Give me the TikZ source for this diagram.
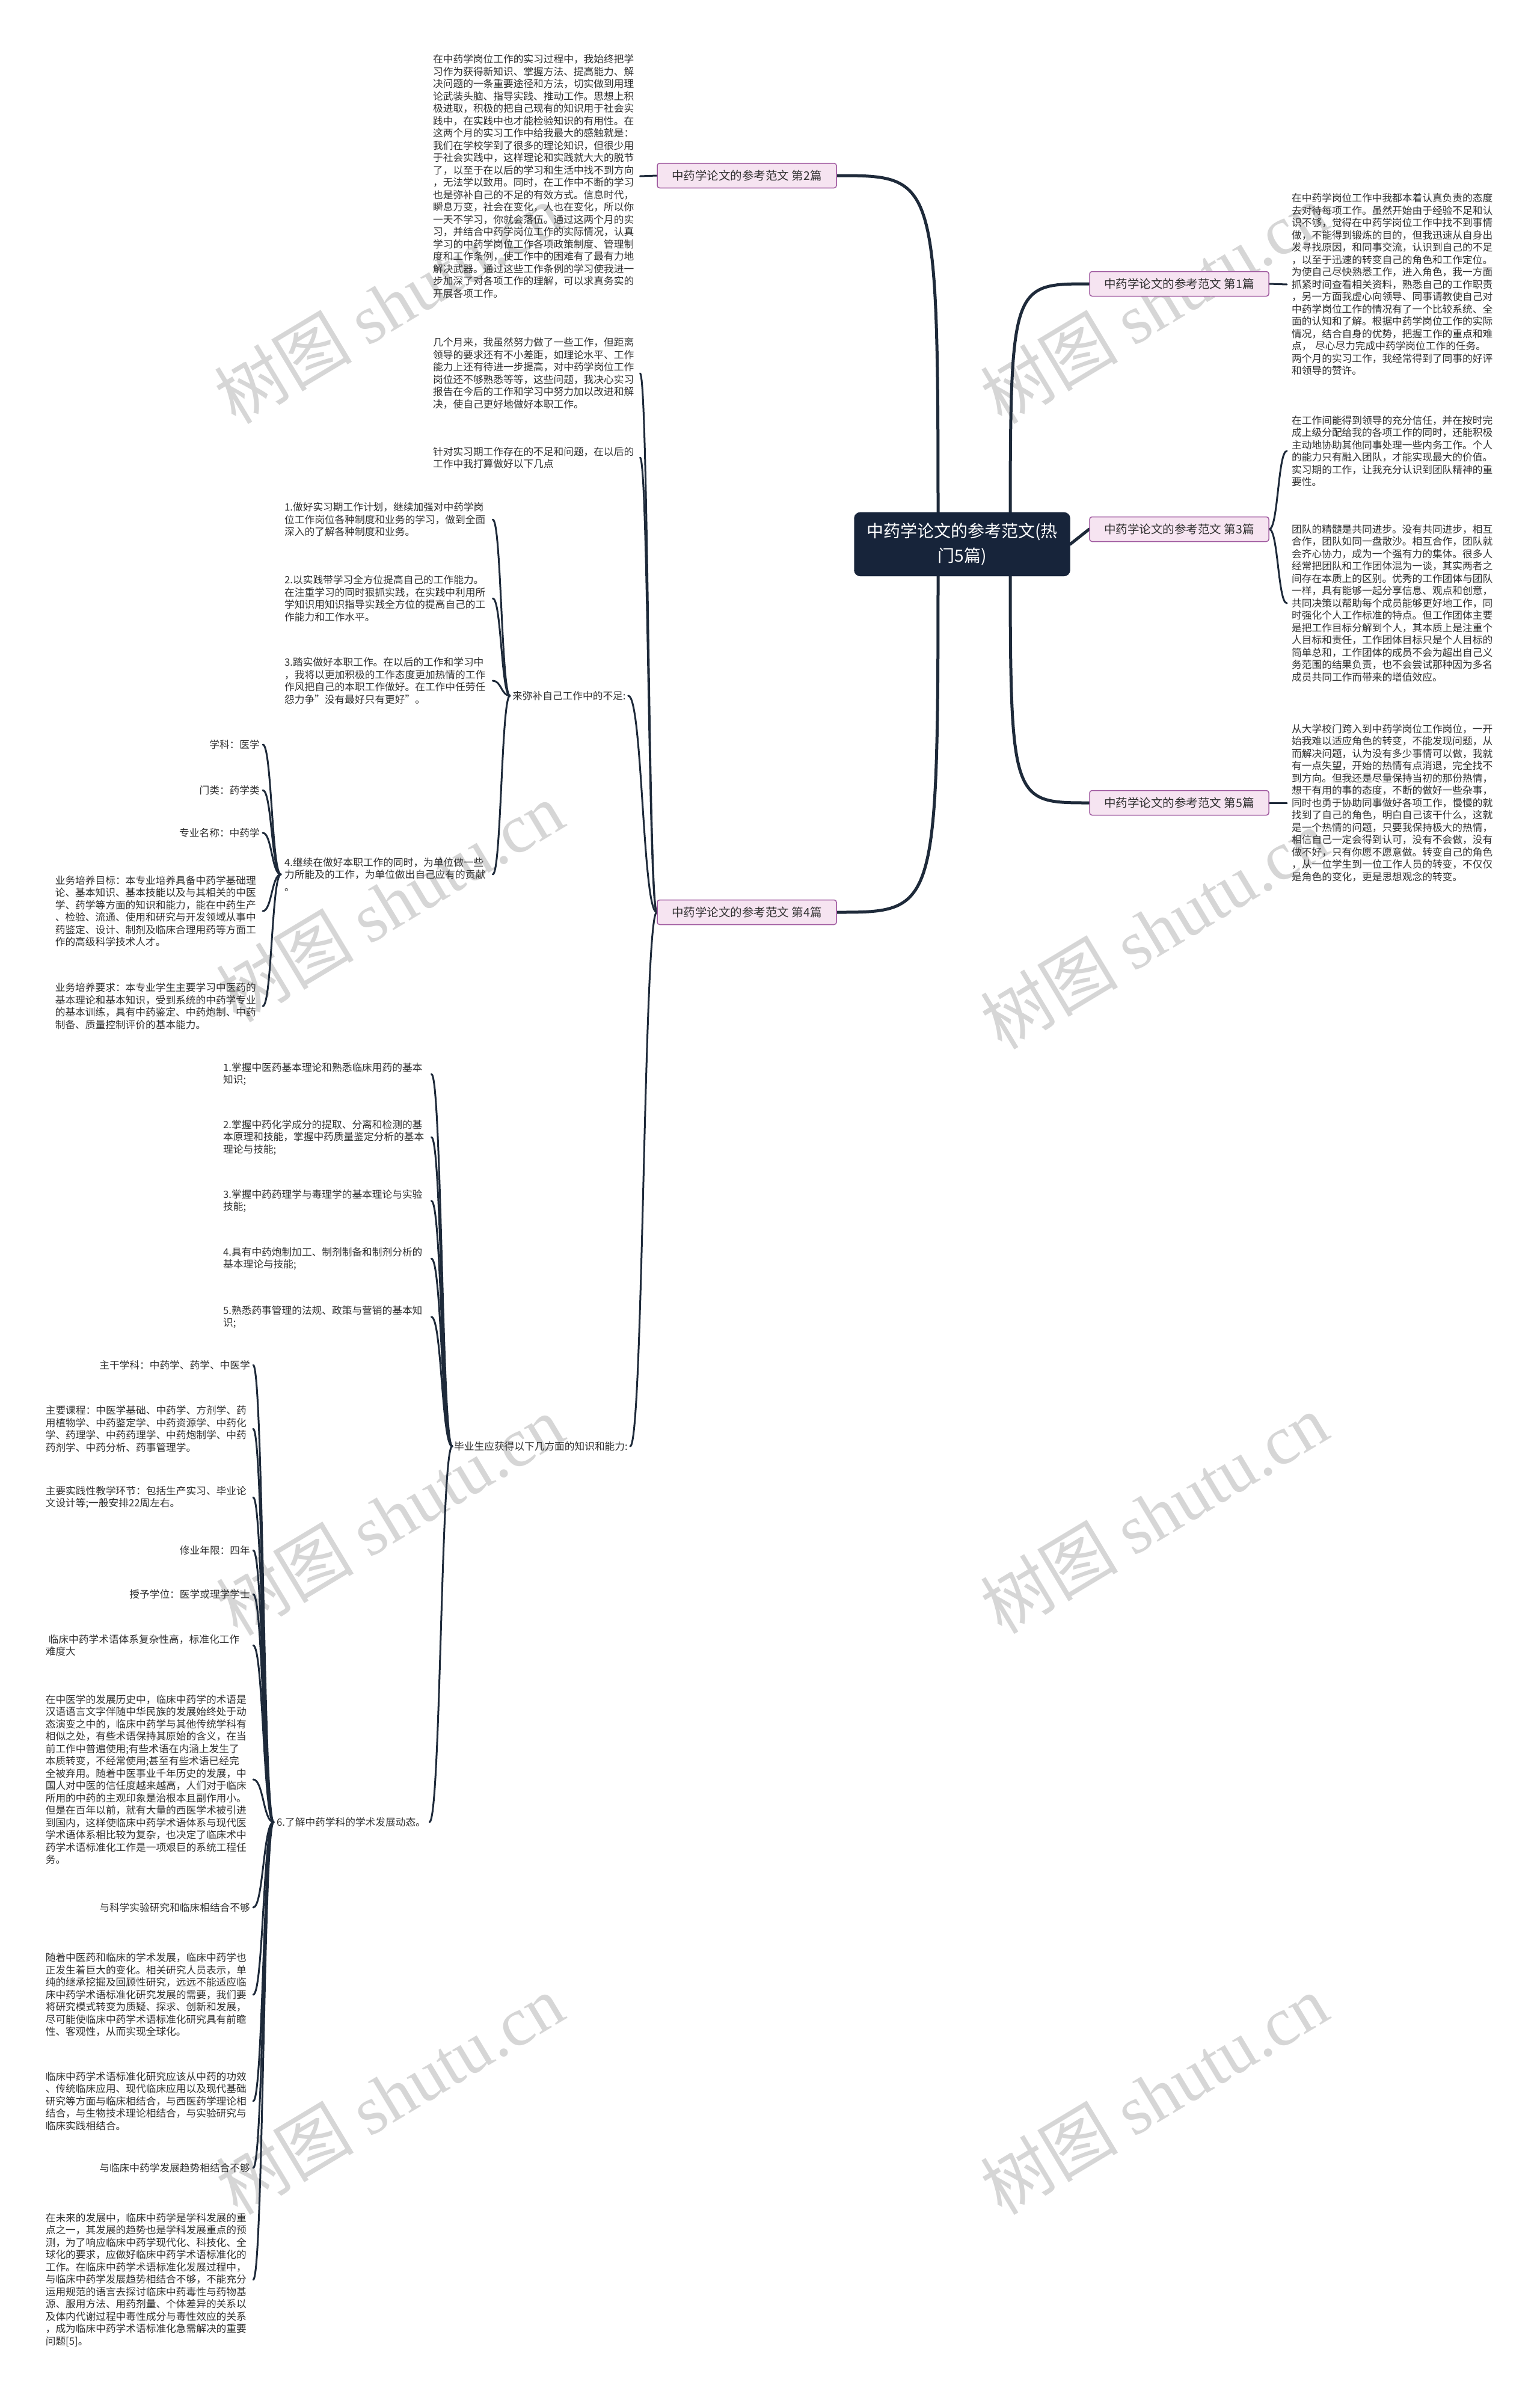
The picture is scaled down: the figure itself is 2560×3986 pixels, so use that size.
\documentclass[tikz,border=0pt]{standalone}
\usepackage{fontspec}
\setmainfont{Noto Sans CJK SC}
\newfontfamily\wmfont{Liberation Serif}
\usetikzlibrary{calc,backgrounds}
\definecolor{lineC}{HTML}{1E2A3A}
\definecolor{rootF}{HTML}{17243A}
\definecolor{brF}{HTML}{F6E4F1}
\definecolor{brD}{HTML}{A05AA0}
\definecolor{wmC}{HTML}{D6D6D6}
\definecolor{txtC}{HTML}{303030}
\tikzset{
  txt/.style={inner sep=0pt, text width=340pt, align=left, anchor=west, text=txtC,
    font=\fontsize{16.7pt}{20.5pt}\selectfont},
  txtr/.style={txt, align=right, anchor=east},
  txtl/.style={txt, anchor=east},
  lbl/.style={inner sep=0pt, anchor=west, text=txtC, font=\fontsize{16.7pt}{20.5pt}\selectfont},
  branch/.style={draw=brD, fill=brF, rounded corners=4pt, minimum width=298pt,
    minimum height=41pt, inner sep=0pt, line width=1.5pt, text=txtC,
    font=\fontsize{19.5pt}{22pt}\selectfont},
  root/.style={fill=rootF, draw=rootF, rounded corners=10pt, minimum width=359pt,
    minimum height=106pt, text=white, align=center, inner sep=0pt,
    font=\fontsize{28pt}{41pt}\selectfont},
  conn/.style={draw=lineC, line width=3pt, line cap=round},
  mainconn/.style={conn, line width=5pt},
  wm/.style={text=wmC, rotate=31, inner sep=0pt, font=\fontsize{115pt}{120pt}\selectfont}
}
\newcommand\lnk[2]{\draw[conn] let \p1=(#1), \p2=(#2) in
  (\p1) .. controls ({0.5*\x1+0.5*\x2},\y1) and ({0.5*\x1+0.5*\x2},\y2) .. (\p2);}
\begin{document}
\begin{tikzpicture}[x=1pt,y=-1pt]
\useasboundingbox (0,0) rectangle (2560,3986);

% root and branches
\node[root] (C) at (1600,905) {中药学论文的参考范文(热\\门5篇)};
\coordinate (cL) at (1560,905);
\coordinate (cR) at (1680,905);
\node[branch] (P2) at (1242,292) {中药学论文的参考范文 第2篇};
\node[branch] (P1) at (1961,472) {中药学论文的参考范文 第1篇};
\node[branch] (P3) at (1961,880) {中药学论文的参考范文 第3篇};
\node[branch] (P5) at (1961,1335) {中药学论文的参考范文 第5篇};
\node[branch] (P4) at (1242,1517) {中药学论文的参考范文 第4篇};

% right side
\node[txt] (R1) at (2148,473) {在中药学岗位工作中我都本着认真负责的态度\\去对待每项工作。虽然开始由于经验不足和认\\识不够，觉得在中药学岗位工作中找不到事情\\做，不能得到锻炼的目的，但我迅速从自身出\\发寻找原因，和同事交流，认识到自己的不足\\，以至于迅速的转变自己的角色和工作定位。\\为使自己尽快熟悉工作，进入角色，我一方面\\抓紧时间查看相关资料，熟悉自己的工作职责\\，另一方面我虚心向领导、同事请教使自己对\\中药学岗位工作的情况有了一个比较系统、全\\面的认知和了解。根据中药学岗位工作的实际\\情况，结合自身的优势，把握工作的重点和难\\点， 尽心尽力完成中药学岗位工作的任务。\\两个月的实习工作，我经常得到了同事的好评\\和领导的赞许。};
\node[txt] (R3a) at (2148,750) {在工作间能得到领导的充分信任，并在按时完\\成上级分配给我的各项工作的同时，还能积极\\主动地协助其他同事处理一些内务工作。个人\\的能力只有融入团队，才能实现最大的价值。\\实习期的工作，让我充分认识到团队精神的重\\要性。};
\node[txt] (R3b) at (2148,1003) {团队的精髓是共同进步。没有共同进步，相互\\合作，团队如同一盘散沙。相互合作，团队就\\会齐心协力，成为一个强有力的集体。很多人\\经常把团队和工作团体混为一谈，其实两者之\\间存在本质上的区别。优秀的工作团体与团队\\一样，具有能够一起分享信息、观点和创意，\\共同决策以帮助每个成员能够更好地工作，同\\时强化个人工作标准的特点。但工作团体主要\\是把工作目标分解到个人，其本质上是注重个\\人目标和责任，工作团体目标只是个人目标的\\简单总和，工作团体的成员不会为超出自己义\\务范围的结果负责，也不会尝试那种因为多名\\成员共同工作而带来的增值效应。};
\node[txt] (R5) at (2148,1335) {从大学校门跨入到中药学岗位工作岗位，一开\\始我难以适应角色的转变，不能发现问题，从\\而解决问题，认为没有多少事情可以做，我就\\有一点失望，开始的热情有点消退，完全找不\\到方向。但我还是尽量保持当初的那份热情，\\想干有用的事的态度，不断的做好一些杂事，\\同时也勇于协助同事做好各项工作，慢慢的就\\找到了自己的角色，明白自己该干什么，这就\\是一个热情的问题，只要我保持极大的热情，\\相信自己一定会得到认可，没有不会做，没有\\做不好，只有你愿不愿意做。转变自己的角色\\，从一位学生到一位工作人员的转变，不仅仅\\是角色的变化，更是思想观念的转变。};

% left: branch 2
\node[txt] (T2) at (720,293) {在中药学岗位工作的实习过程中，我始终把学\\习作为获得新知识、掌握方法、提高能力、解\\决问题的一条重要途径和方法，切实做到用理\\论武装头脑、指导实践、推动工作。思想上积\\极进取，积极的把自己现有的知识用于社会实\\践中，在实践中也才能检验知识的有用性。在\\这两个月的实习工作中给我最大的感触就是：\\我们在学校学到了很多的理论知识，但很少用\\于社会实践中，这样理论和实践就大大的脱节\\了，以至于在以后的学习和生活中找不到方向\\，无法学以致用。同时，在工作中不断的学习\\也是弥补自己的不足的有效方式。信息时代，\\瞬息万变，社会在变化，人也在变化，所以你\\一天不学习，你就会落伍。通过这两个月的实\\习，并结合中药学岗位工作的实际情况，认真\\学习的中药学岗位工作各项政策制度、管理制\\度和工作条例，使工作中的困难有了最有力地\\解决武器。通过这些工作条例的学习使我进一\\步加深了对各项工作的理解，可以求真务实的\\开展各项工作。};

% left: branch 4
\node[txt] (J) at (720,621) {几个月来，我虽然努力做了一些工作，但距离\\领导的要求还有不小差距，如理论水平、工作\\能力上还有待进一步提高，对中药学岗位工作\\岗位还不够熟悉等等，这些问题，我决心实习\\报告在今后的工作和学习中努力加以改进和解\\决，使自己更好地做好本职工作。};
\node[txt] (Z) at (720,761) {针对实习期工作存在的不足和问题，在以后的\\工作中我打算做好以下几点};
\node[lbl] (B) at (852,1157) {来弥补自己工作中的不足:};
\node[lbl] (G) at (755,2405) {毕业生应获得以下几方面的知识和能力:};

\node[txt] (I1) at (473,864) {1.做好实习期工作计划，继续加强对中药学岗\\位工作岗位各种制度和业务的学习，做到全面\\深入的了解各种制度和业务。};
\node[txt] (I2) at (473,995) {2.以实践带学习全方位提高自己的工作能力。\\在注重学习的同时狠抓实践，在实践中利用所\\学知识用知识指导实践全方位的提高自己的工\\作能力和工作水平。};
\node[txt] (I3) at (473,1132) {3.踏实做好本职工作。在以后的工作和学习中\\，我将以更加积极的工作态度更加热情的工作\\作风把自己的本职工作做好。在工作中任劳任\\怨力争"没有最好只有更好"。};
\node[txt] (I4) at (473,1454) {4.继续在做好本职工作的同时，为单位做一些\\力所能及的工作，为单位做出自己应有的贡献\\。};

\node[txtr] (K1) at (432,1238) {学科：医学};
\node[txtr] (K2) at (432,1314) {门类：药学类};
\node[txtr] (K3) at (432,1385) {专业名称：中药学};
\node[txtl] (K4) at (432,1515) {业务培养目标：本专业培养具备中药学基础理\\论、基本知识、基本技能以及与其相关的中医\\学、药学等方面的知识和能力，能在中药生产\\、检验、流通、使用和研究与开发领域从事中\\药鉴定、设计、制剂及临床合理用药等方面工\\作的高级科学技术人才。};
\node[txtl] (K5) at (432,1673) {业务培养要求：本专业学生主要学习中医药的\\基本理论和基本知识，受到系统的中药学专业\\的基本训练，具有中药鉴定、中药炮制、中药\\制备、质量控制评价的基本能力。};

\node[txt] (H1) at (371,1786) {1.掌握中医药基本理论和熟悉临床用药的基本\\知识;};
\node[txt] (H2) at (371,1891) {2.掌握中药化学成分的提取、分离和检测的基\\本原理和技能，掌握中药质量鉴定分析的基本\\理论与技能;};
\node[txt] (H3) at (371,1997) {3.掌握中药药理学与毒理学的基本理论与实验\\技能;};
\node[txt] (H4) at (371,2093) {4.具有中药炮制加工、制剂制备和制剂分析的\\基本理论与技能;};
\node[txt] (H5) at (371,2190) {5.熟悉药事管理的法规、政策与营销的基本知\\识;};
\node[lbl] (N6) at (460,3030) {6.了解中药学科的学术发展动态。};

\node[txtr] (S1) at (416,2270) {主干学科：中药学、药学、中医学};
\node[txtl] (S2) at (416,2376) {主要课程：中医学基础、中药学、方剂学、药\\用植物学、中药鉴定学、中药资源学、中药化\\学、药理学、中药药理学、中药炮制学、中药\\药剂学、中药分析、药事管理学。};
\node[txtl] (S3) at (416,2490) {主要实践性教学环节：包括生产实习、毕业论\\文设计等;一般安排22周左右。};
\node[txtr] (S4) at (416,2578) {修业年限：四年};
\node[txtr] (S5) at (416,2651) {授予学位：医学或理学学士};
\node[txtl] (S6) at (416,2736) {\hspace*{5pt}临床中药学术语体系复杂性高，标准化工作\\难度大};
\node[txtl] (S7) at (416,2959) {在中医学的发展历史中，临床中药学的术语是\\汉语语言文字伴随中华民族的发展始终处于动\\态演变之中的，临床中药学与其他传统学科有\\相似之处，有些术语保持其原始的含义，在当\\前工作中普遍使用;有些术语在内涵上发生了\\本质转变，不经常使用;甚至有些术语已经完\\全被弃用。随着中医事业千年历史的发展，中\\国人对中医的信任度越来越高，人们对于临床\\所用的中药的主观印象是治根本且副作用小。\\但是在百年以前，就有大量的西医学术被引进\\到国内，这样使临床中药学术语体系与现代医\\学术语体系相比较为复杂，也决定了临床术中\\药学术语标准化工作是一项艰巨的系统工程任\\务。};
\node[txtr] (S8) at (416,3172) {与科学实验研究和临床相结合不够};
\node[txtl] (S9) at (416,3317) {随着中医药和临床的学术发展，临床中药学也\\正发生着巨大的变化。相关研究人员表示，单\\纯的继承挖掘及回顾性研究，远远不能适应临\\床中药学术语标准化研究发展的需要，我们要\\将研究模式转变为质疑、探求、创新和发展，\\尽可能使临床中药学术语标准化研究具有前瞻\\性、客观性，从而实现全球化。};
\node[txtl] (S10) at (416,3494) {临床中药学术语标准化研究应该从中药的功效\\、传统临床应用、现代临床应用以及现代基础\\研究等方面与临床相结合，与西医药学理论相\\结合，与生物技术理论相结合，与实验研究与\\临床实践相结合。};
\node[txtr] (S11) at (416,3605) {与临床中药学发展趋势相结合不够};
\node[txtl] (S12) at (416,3791) {在未来的发展中，临床中药学是学科发展的重\\点之一，其发展的趋势也是学科发展重点的预\\测，为了响应临床中药学现代化、科技化、全\\球化的要求，应做好临床中药学术语标准化的\\工作。在临床中药学术语标准化发展过程中，\\与临床中药学发展趋势相结合不够，不能充分\\运用规范的语言去探讨临床中药毒性与药物基\\源、服用方法、用药剂量、个体差异的关系以\\及体内代谢过程中毒性成分与毒性效应的关系\\，成为临床中药学术语标准化急需解决的重要\\问题[5]。};

\begin{scope}[on background layer]
  \fill[white] (0,0) rectangle (2560,3986);
  % watermarks
  \foreach \wx/\wy/\wn in {645/505/a,1919/505/b,648/1500/c,1919/1545/d,648/2520/e,1919/2517/f,648/3483/g,1919/3483/h}{
    \node[wm] (wm\wn) at (\wx,\wy) {树图 {\wmfont shutu.cn}};
  }
  % root connectors
  \draw[mainconn] (cL) .. controls (cL |- P2.east) .. (P2.east);
  \draw[mainconn] (cL) .. controls (cL |- P4.east) .. (P4.east);
  \draw[mainconn] (cR) .. controls (cR |- P1.west) .. (P1.west);
  \draw[mainconn] (cR) .. controls (cR |- P5.west) .. (P5.west);
  \draw[mainconn] (C.east) .. controls (P3.west) .. (P3.west);
  % right
  \lnk{P1.east}{[xshift=-8pt]R1.west}
  \lnk{P3.east}{[xshift=-8pt]R3a.west}
  \lnk{P3.east}{[xshift=-8pt]R3b.west}
  \lnk{P5.east}{[xshift=-8pt]R5.west}
  % branch 2
  \lnk{P2.west}{[xshift=4pt]T2.east}
  % branch 4
  \lnk{P4.west}{[xshift=4pt]J.east}
  \lnk{P4.west}{[xshift=4pt]Z.east}
  \lnk{P4.west}{[xshift=4pt]B.east}
  \lnk{P4.west}{[xshift=4pt]G.east}
  \foreach \c in {I1,I2,I3,I4}{\lnk{[xshift=-4pt]B.west}{[xshift=6pt]\c.east}}
  \foreach \c in {K1,K2,K3,K4,K5}{\lnk{[xshift=-6pt]I4.west}{[xshift=5pt]\c.east}}
  \foreach \c in {H1,H2,H3,H4,H5,N6}{\lnk{[xshift=-3pt]G.west}{[xshift=6pt]\c.east}}
  \foreach \c in {S1,S2,S3,S4,S5,S6,S7,S8,S9,S10,S11,S12}{\lnk{[xshift=-5pt]N6.west}{[xshift=5pt]\c.east}}
\end{scope}
\end{tikzpicture}
\end{document}
